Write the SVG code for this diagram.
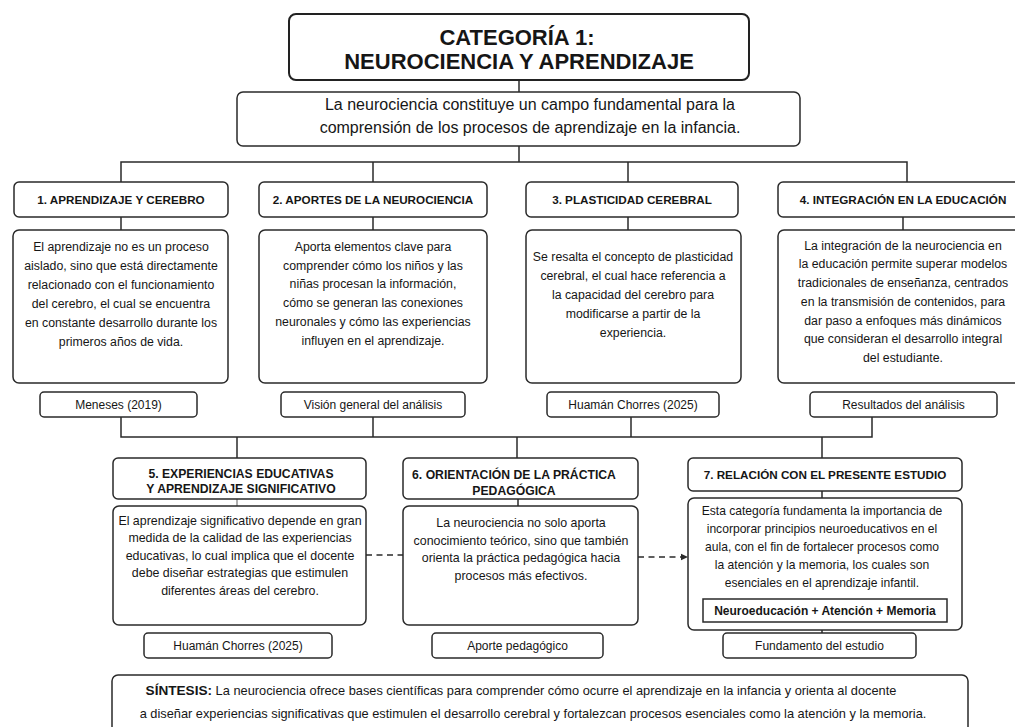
<svg xmlns="http://www.w3.org/2000/svg" width="1015" height="727" viewBox="0 0 1015 727">
<defs>
<style>
.bx{fill:#fff;stroke:#2a2a2a;stroke-width:1.5}
.tb{fill:#fff;stroke:#222;stroke-width:2}
.ln{fill:none;stroke:#2a2a2a;stroke-width:1.5}
.dsh{fill:none;stroke:#2a2a2a;stroke-width:1.6;stroke-dasharray:6 4.5}
text{font-family:"Liberation Sans",Arial,sans-serif;fill:#161616;text-anchor:middle}
.ttl{font-size:22px;font-weight:bold}
.intro{font-size:16px}
.hd{font-size:11.7px;font-weight:bold}
.hd2{font-size:12.2px;font-weight:bold}
.bd{font-size:12.3px}
.bd2{font-size:12.4px}
.bd3{font-size:12.1px}
.src{font-size:12px}
.syn{font-size:12.8px}
.kw{font-size:12px;font-weight:bold}
</style>
<marker id="arr" markerWidth="8" markerHeight="8" refX="7" refY="4" orient="auto" markerUnits="userSpaceOnUse">
<path d="M0,0.8 L7,4 L0,7.2 z" fill="#2a2a2a"/>
</marker>
</defs>
<rect width="1015" height="727" fill="#fff"/>

<g id="connectors">
<line class="ln" x1="519" y1="80" x2="519" y2="92"/>
<line class="ln" x1="519" y1="146" x2="519" y2="162"/>
<polyline class="ln" points="121,182 121,162 907,162 907,182"/>
<line class="ln" x1="373" y1="162" x2="373" y2="182"/>
<line class="ln" x1="628" y1="162" x2="628" y2="182"/>
<line class="ln" x1="121" y1="217" x2="121" y2="230"/>
<line class="ln" x1="373" y1="217" x2="373" y2="230"/>
<line class="ln" x1="628" y1="217" x2="628" y2="230"/>
<line class="ln" x1="903" y1="217" x2="903" y2="230"/>
<polyline class="ln" points="121,417 121,437 872,437 872,417"/>
<line class="ln" x1="373" y1="417" x2="373" y2="437"/>
<line class="ln" x1="631" y1="417" x2="631" y2="437"/>
<line class="ln" x1="237" y1="437" x2="237" y2="458"/>
<line class="ln" x1="517" y1="437" x2="517" y2="458"/>
<line class="ln" x1="822" y1="437" x2="822" y2="458"/>
<line class="ln" x1="237" y1="499" x2="237" y2="506" stroke-opacity="0.5"/>
<line class="ln" x1="518" y1="499" x2="518" y2="506"/>
<line class="ln" x1="822" y1="491" x2="822" y2="498"/>
<line class="ln" x1="822" y1="630" x2="822" y2="633"/>
<line class="dsh" x1="366" y1="555" x2="403" y2="555"/>
<line class="dsh" x1="638" y1="557" x2="688" y2="557" marker-end="url(#arr)"/>
</g>

<g id="title">
<rect class="tb" x="289" y="14" width="460" height="66" rx="7"/>
<text class="ttl" x="517" y="45">CATEGORÍA 1:</text>
<text class="ttl" x="519" y="69">NEUROCIENCIA Y APRENDIZAJE</text>
</g>

<g id="intro">
<rect class="bx" x="237" y="92" width="563" height="54" rx="6"/>
<text class="intro" x="530" y="110">La neurociencia constituye un campo fundamental para la</text>
<text class="intro" x="530" y="133">comprensión de los procesos de aprendizaje en la infancia.</text>
</g>

<g id="h1">
<rect class="bx" x="14" y="182" width="214" height="35" rx="5"/>
<text class="hd" x="121" y="203.5">1. APRENDIZAJE Y CEREBRO</text>
</g>
<g id="h2">
<rect class="bx" x="259" y="182" width="228" height="35" rx="5"/>
<text class="hd" x="373" y="203.5">2. APORTES DE LA NEUROCIENCIA</text>
</g>
<g id="h3">
<rect class="bx" x="526" y="182" width="212" height="35" rx="5"/>
<text class="hd" x="632" y="203.5">3. PLASTICIDAD CEREBRAL</text>
</g>
<g id="h4">
<rect class="bx" x="778" y="182" width="250" height="35" rx="5"/>
<text class="hd" x="903" y="203.5">4. INTEGRACIÓN EN LA EDUCACIÓN</text>
</g>

<g id="b1">
<rect class="bx" x="13" y="230" width="215" height="153" rx="6"/>
<text class="bd" x="121"><tspan x="121" y="251">El aprendizaje no es un proceso</tspan><tspan x="121" y="270">aislado, sino que está directamente</tspan><tspan x="121" y="289">relacionado con el funcionamiento</tspan><tspan x="121" y="308">del cerebro, el cual se encuentra</tspan><tspan x="121" y="327">en constante desarrollo durante los</tspan><tspan x="121" y="346">primeros años de vida.</tspan></text>
</g>
<g id="b2">
<rect class="bx" x="259" y="230" width="228" height="153" rx="6"/>
<text class="bd" x="373"><tspan x="373" y="250.5">Aporta elementos clave para</tspan><tspan x="373" y="269.5">comprender cómo los niños y las</tspan><tspan x="373" y="288">niñas procesan la información,</tspan><tspan x="373" y="307">cómo se generan las conexiones</tspan><tspan x="373" y="325.5">neuronales y cómo las experiencias</tspan><tspan x="373" y="344.5">influyen en el aprendizaje.</tspan></text>
</g>
<g id="b3">
<rect class="bx" x="526" y="230" width="215" height="153" rx="6"/>
<text class="bd" x="633"><tspan x="633" y="261">Se resalta el concepto de plasticidad</tspan><tspan x="633" y="280">cerebral, el cual hace referencia a</tspan><tspan x="633" y="299">la capacidad del cerebro para</tspan><tspan x="633" y="318">modificarse a partir de la</tspan><tspan x="633" y="337">experiencia.</tspan></text>
</g>
<g id="b4">
<rect class="bx" x="778" y="230" width="250" height="153" rx="6"/>
<text class="bd" x="903"><tspan x="903" y="249.5">La integración de la neurociencia en</tspan><tspan x="903" y="268">la educación permite superar modelos</tspan><tspan x="903" y="287">tradicionales de enseñanza, centrados</tspan><tspan x="903" y="306">en la transmisión de contenidos, para</tspan><tspan x="903" y="324.5">dar paso a enfoques más dinámicos</tspan><tspan x="903" y="343">que consideran el desarrollo integral</tspan><tspan x="903" y="361.5">del estudiante.</tspan></text>
</g>

<g id="s1">
<rect class="bx" x="40" y="392" width="157" height="25" rx="4"/>
<text class="src" x="118.5" y="409">Meneses (2019)</text>
</g>
<g id="s2">
<rect class="bx" x="281" y="392" width="184" height="25" rx="4"/>
<text class="src" x="373" y="409">Visión general del análisis</text>
</g>
<g id="s3">
<rect class="bx" x="547" y="392" width="172" height="25" rx="4"/>
<text class="src" x="633" y="409">Huamán Chorres (2025)</text>
</g>
<g id="s4">
<rect class="bx" x="810" y="392" width="187" height="25" rx="4"/>
<text class="src" x="903.5" y="409">Resultados del análisis</text>
</g>

<g id="h5">
<rect class="bx" x="113" y="458" width="253" height="41" rx="5"/>
<text class="hd2" x="241"><tspan x="241" y="477.5">5. EXPERIENCIAS EDUCATIVAS</tspan><tspan x="241" y="493">Y APRENDIZAJE SIGNIFICATIVO</tspan></text>
</g>
<g id="h6">
<rect class="bx" x="403" y="458" width="235" height="41" rx="5"/>
<text class="hd2" x="514"><tspan x="514" y="478.5">6. ORIENTACIÓN DE LA PRÁCTICA</tspan><tspan x="514" y="494.5">PEDAGÓGICA</tspan></text>
</g>
<g id="h7">
<rect class="bx" x="688" y="458" width="274" height="33" rx="5"/>
<text class="hd" x="825" y="478.5">7. RELACIÓN CON EL PRESENTE ESTUDIO</text>
</g>

<g id="b5">
<rect class="bx" x="113" y="506" width="253" height="119" rx="6"/>
<text class="bd2" x="240"><tspan x="240" y="524.5">El aprendizaje significativo depende en gran</tspan><tspan x="240" y="542">medida de la calidad de las experiencias</tspan><tspan x="240" y="559.5">educativas, lo cual implica que el docente</tspan><tspan x="240" y="577">debe diseñar estrategias que estimulen</tspan><tspan x="240" y="594.5">diferentes áreas del cerebro.</tspan></text>
</g>
<g id="b6">
<rect class="bx" x="403" y="506" width="235" height="119" rx="6"/>
<text class="bd2" x="521"><tspan x="521" y="527">La neurociencia no solo aporta</tspan><tspan x="521" y="544.5">conocimiento teórico, sino que también</tspan><tspan x="521" y="562">orienta la práctica pedagógica hacia</tspan><tspan x="521" y="579.5">procesos más efectivos.</tspan></text>
</g>
<g id="b7">
<rect class="bx" x="688" y="498" width="274" height="132" rx="6"/>
<text class="bd3" x="822"><tspan x="822" y="515">Esta categoría fundamenta la importancia de</tspan><tspan x="822" y="533">incorporar principios neuroeducativos en el</tspan><tspan x="822" y="551">aula, con el fin de fortalecer procesos como</tspan><tspan x="822" y="569">la atención y la memoria, los cuales son</tspan><tspan x="822" y="587">esenciales en el aprendizaje infantil.</tspan></text>
<rect x="703" y="599" width="244" height="23" fill="#fff" stroke="#2a2a2a" stroke-width="1.5"/>
<text class="kw" x="825" y="615">Neuroeducación + Atención + Memoria</text>
</g>

<g id="s5">
<rect class="bx" x="144" y="633" width="188" height="25" rx="4"/>
<text class="src" x="238" y="650">Huamán Chorres (2025)</text>
</g>
<g id="s6">
<rect class="bx" x="432" y="633" width="171" height="25" rx="4"/>
<text class="src" x="517.5" y="650">Aporte pedagógico</text>
</g>
<g id="s7">
<rect class="bx" x="723" y="633" width="193" height="25" rx="4"/>
<text class="src" x="819.5" y="650">Fundamento del estudio</text>
</g>

<g id="synthesis">
<rect class="bx" x="112" y="675" width="856" height="70" rx="6"/>
<text class="syn" x="521" y="695"><tspan font-weight="bold" font-size="13.6px">SÍNTESIS:</tspan> La neurociencia ofrece bases científicas para comprender cómo ocurre el aprendizaje en la infancia y orienta al docente</text>
<text class="syn" x="533" y="718">a diseñar experiencias significativas que estimulen el desarrollo cerebral y fortalezcan procesos esenciales como la atención y la memoria.</text>
</g>
</svg>
